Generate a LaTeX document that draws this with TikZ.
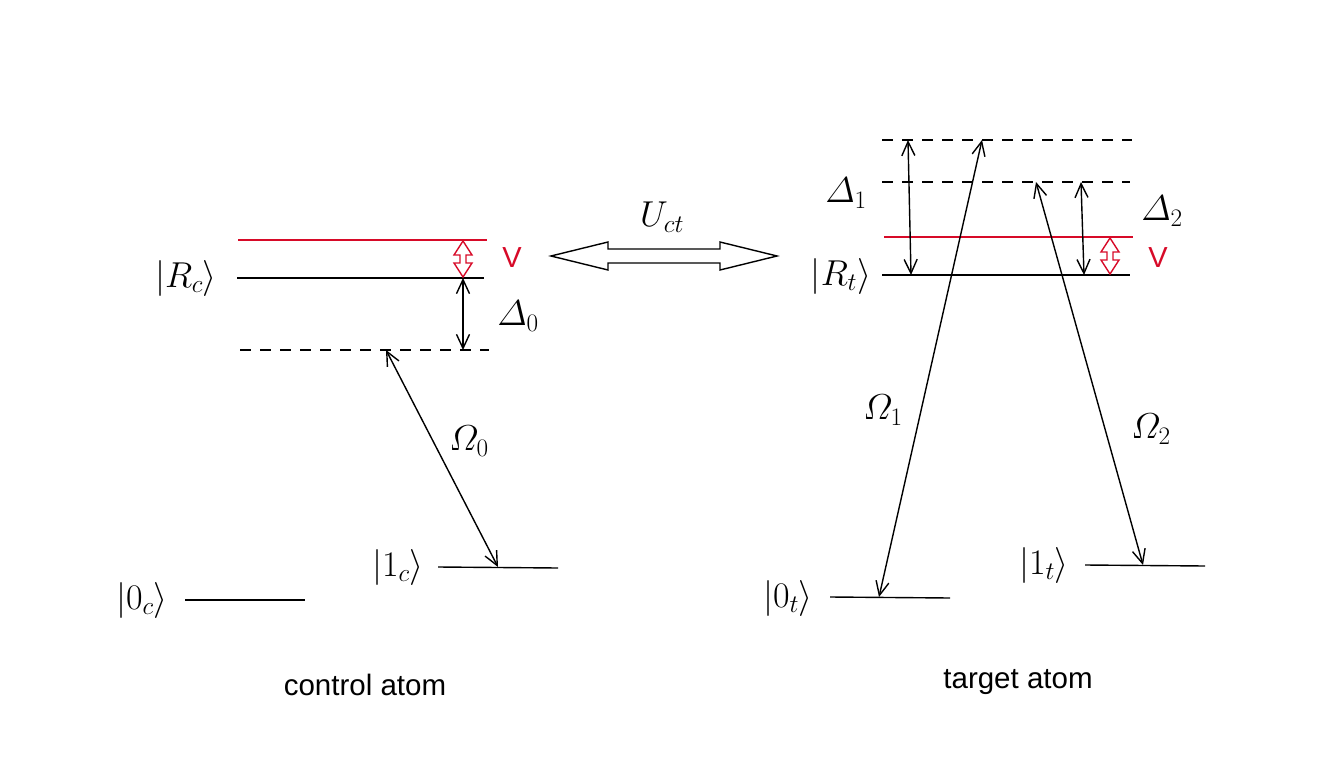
\RequirePackage{fix-cm}
\documentclass[tikz,border=0pt]{standalone}
\usepackage{amsmath}
\usepackage{fontspec}
\newfontfamily\labelsans{Liberation Sans}
\usetikzlibrary{arrows.meta}
\definecolor{lvlred}{RGB}{215,10,40}
\tikzset{
  level/.style={line width=1.4pt},
  redlevel/.style={line width=1.4pt, draw=lvlred},
  virt/.style={line width=1.4pt, dash pattern=on 11pt off 9pt},
  dbl/.style={line width=1.4pt, {Straight Barb[length=14pt,width=13pt]}-{Straight Barb[length=14pt,width=13pt]}},
  hollow/.style={line width=1.4pt, line join=miter},
  mlab/.style={font=\fontsize{36}{40}\selectfont, inner sep=0pt},
  tlab/.style={font=\labelsans\fontsize{29.5}{34}\selectfont, inner sep=0pt},
  vlab/.style={font=\labelsans\fontsize{29}{33}\selectfont, text=lvlred, inner sep=0pt},
}
\begin{document}
\begin{tikzpicture}[x=1pt,y=-1pt]
\useasboundingbox (0,0) rectangle (1322,773);

% ---------------- control atom ----------------
\draw[redlevel] (238,240) coordinate (rcv1) -- (487,240) coordinate (rcv2);
\draw[level] (237,278) coordinate (rc1) -- (484,278) coordinate (rc2);
\draw[virt] (240,350) coordinate (dc1) -- (489,350) coordinate (dc2);
\draw[level] (438,567) coordinate (oc1) -- (558,568) coordinate (oc2);
\draw[level] (185,600) coordinate (zc1) -- (305,600) coordinate (zc2);

\node[mlab] (kRc) at (186,278) {$\lvert R_c\rangle$};
\node[mlab] (k1c) at (398,567) {$\lvert 1_c\rangle$};
\node[mlab] (k0c) at (142,600) {$\lvert 0_c\rangle$};

\coordinate (vtopc) at (463,241);
\draw[hollow, draw=lvlred] (vtopc) -- ++(9,14) -- ++(-6,0) -- ++(0,8) -- ++(6,0) -- ++(-9,14)
   -- ++(-9,-14) -- ++(6,0) -- ++(0,-8) -- ++(-6,0) -- cycle;
\node[vlab] (Vc) at (512,258) {V};

\coordinate (d0a) at (463,278);
\coordinate (d0b) at (463,350);
\draw[dbl] (d0a) -- (d0b);
\node[mlab] (D0) at (518,316) {$\varDelta_0$};

\coordinate (o0a) at (386,350);
\coordinate (o0b) at (498,567);
\draw[dbl] (o0a) -- (o0b);
\node[mlab] (O0) at (469,441) {$\varOmega_0$};

\node[tlab] (ctl) at (365,685) {control atom};

% ---------------- interaction ----------------
\coordinate (uL) at (551,256);
\draw[hollow] (uL) -- ++(57,-14) -- ++(0,7) -- ++(112,0) -- ++(0,-7) -- ++(57,14)
   -- ++(-57,14) -- ++(0,-7) -- ++(-112,0) -- ++(0,7) -- cycle;
\node[mlab] (Uct) at (662,217) {$U_{ct}$};

% ---------------- target atom ----------------
\draw[virt] (882,140) coordinate (dt1a) -- (1132,140) coordinate (dt1b);
\draw[virt] (882,182) coordinate (dt2a) -- (1130,182) coordinate (dt2b);
\draw[redlevel] (884,237) coordinate (rtv1) -- (1133,237) coordinate (rtv2);
\draw[level] (882,275) coordinate (rt1) -- (1130,275) coordinate (rt2);
\draw[level] (830,597) coordinate (zt1) -- (950,598) coordinate (zt2);
\draw[level] (1085,565) coordinate (ot1) -- (1205,566) coordinate (ot2);

\node[mlab] (kRt) at (841,276) {$\lvert R_t\rangle$};
\node[mlab] (k0t) at (788,598) {$\lvert 0_t\rangle$};
\node[mlab] (k1t) at (1044,565) {$\lvert 1_t\rangle$};

\coordinate (d1a) at (908,140);
\coordinate (d1b) at (911,275);
\draw[dbl] (d1a) -- (d1b);
\node[mlab] (D1) at (846,193) {$\varDelta_1$};

\coordinate (d2a) at (1081,182);
\coordinate (d2b) at (1084,275);
\draw[dbl] (d2a) -- (d2b);
\node[mlab] (D2) at (1162,211) {$\varDelta_2$};

\coordinate (vtopt) at (1110,238);
\draw[hollow, draw=lvlred] (vtopt) -- ++(9,14) -- ++(-6,0) -- ++(0,8) -- ++(6,0) -- ++(-9,14)
   -- ++(-9,-14) -- ++(6,0) -- ++(0,-8) -- ++(-6,0) -- cycle;
\node[vlab] (Vt) at (1158,258) {V};

\coordinate (o1a) at (982,140);
\coordinate (o1b) at (879,597);
\draw[dbl] (o1a) -- (o1b);
\node[mlab] (O1) at (883,410) {$\varOmega_1$};

\coordinate (o2a) at (1036,182);
\coordinate (o2b) at (1143,565);
\draw[dbl] (o2a) -- (o2b);
\node[mlab] (O2) at (1151,429) {$\varOmega_2$};

\node[tlab] (tgt) at (1018,682) {target atom};
\end{tikzpicture}
\end{document}
